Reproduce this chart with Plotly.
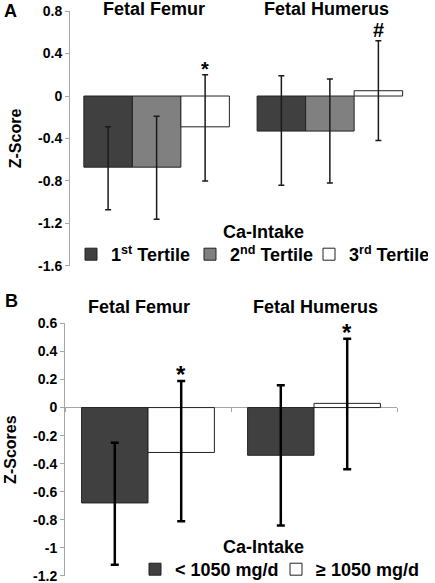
import plotly.graph_objects as go

# ---------------- data ----------------
bones = ["Fetal Femur", "Fetal Humerus"]

# Panel A: Ca-intake tertiles
tertile_names = ["1<sup>st</sup> Tertile", "2<sup>nd</sup> Tertile", "3<sup>rd</sup> Tertile"]
tertile_values = [[-0.67, -0.33], [-0.67, -0.33], [-0.29, 0.05]]
tertile_err_up = [[0.38, 0.52], [0.48, 0.49], [0.49, 0.47]]
tertile_err_down = [[0.40, 0.51], [0.49, 0.49], [0.51, 0.47]]
tertile_marks = [None, None, ["*", "#"]]

# Panel B: Ca-intake split at 1050 mg/d
split_names = ["< 1050 mg/d", "≥ 1050 mg/d"]
split_values = [[-0.68, -0.34], [-0.32, 0.03]]
split_err_up = [[0.43, 0.50], [0.51, 0.46]]
split_err_down = [[0.44, 0.50], [0.49, 0.47]]
split_marks = [None, ["*", "*"]]

ticks_a = [0.8, 0.4, 0, -0.4, -0.8, -1.2, -1.6]
ticks_b = [0.6, 0.4, 0.2, 0, -0.2, -0.4, -0.6, -0.8, -1, -1.2]

# ---------------- style ----------------
W, H = 435, 583
FONT = "Liberation Sans, Arial, sans-serif"
colors_a = ["#404040", "#808080", "#ffffff"]
colors_b = ["#404040", "#ffffff"]
legend_ids_b = ["legend2", "legend3"]
legend_x_b = [135, 276]
bw_a = 0.28
bw_b = 0.40
EPS = 0.0008


def px_x(p):
    return p / W


def px_y(p):
    return 1 - p / H


fig = go.Figure()
annotations = []

# Panel A traces
for i, name in enumerate(tertile_names):
    off = -1.5 * bw_a + i * bw_a
    fig.add_trace(go.Bar(
        x=bones, y=tertile_values[i], name=name, width=bw_a, offset=off,
        marker=dict(color=colors_a[i], line=dict(color="#222222", width=1)),
        error_y=dict(type="data", symmetric=False, array=tertile_err_up[i],
                     arrayminus=tertile_err_down[i], color="#1a1a1a",
                     thickness=1.5, width=3),
        xaxis="x", yaxis="y", legend="legend", hoverinfo="skip",
    ))
    if tertile_marks[i]:
        for j, m in enumerate(tertile_marks[i]):
            annotations.append(dict(
                x=j + off + bw_a / 2, y=tertile_values[i][j] + tertile_err_up[i][j],
                xref="x", yref="y", text=m, showarrow=False, yanchor="bottom",
                yshift=-7 if m == "*" else -2,
                font=dict(family=FONT, size=20, color="black", weight="bold")))

# Panel B traces
for i, name in enumerate(split_names):
    off = -bw_b + i * bw_b
    fig.add_trace(go.Bar(
        x=bones, y=split_values[i], name=name, width=bw_b, offset=off,
        marker=dict(color=colors_b[i], line=dict(color="#222222", width=1)),
        error_y=dict(type="data", symmetric=False, array=split_err_up[i],
                     arrayminus=split_err_down[i], color="black",
                     thickness=2.5, width=4),
        xaxis="x2", yaxis="y2", legend=legend_ids_b[i], hoverinfo="skip",
    ))
    if split_marks[i]:
        for j, m in enumerate(split_marks[i]):
            annotations.append(dict(
                x=j + off + bw_b / 2, y=split_values[i][j] + split_err_up[i][j],
                xref="x2", yref="y2", text=m, showarrow=False, yanchor="bottom",
                yshift=-9,
                font=dict(family=FONT, size=24, color="black", weight="bold")))

# Group titles
for j, b in enumerate(bones):
    annotations.append(dict(x=j, y=px_y(9), xref="x", yref="paper", text=b,
                            showarrow=False, yanchor="middle", xshift=-3,
                            font=dict(family=FONT, size=18, color="black", weight="bold")))
    annotations.append(dict(x=j, y=px_y(307), xref="x2", yref="paper", text=b,
                            showarrow=False, yanchor="middle", xshift=-9 if j == 0 else 1,
                            font=dict(family=FONT, size=18, color="black", weight="bold")))

# Panel letters and legend headings
annotations += [
    dict(x=px_x(2), y=px_y(11), xref="paper", yref="paper", text="A", showarrow=False,
         xanchor="left", yanchor="middle",
         font=dict(family=FONT, size=18, color="black", weight="bold")),
    dict(x=px_x(3), y=px_y(301), xref="paper", yref="paper", text="B", showarrow=False,
         xanchor="left", yanchor="middle",
         font=dict(family=FONT, size=18, color="black", weight="bold")),
    dict(x=px_x(263), y=px_y(232), xref="paper", yref="paper", text="Ca-Intake",
         showarrow=False, xanchor="center", yanchor="middle",
         font=dict(family=FONT, size=18, color="black", weight="bold")),
    dict(x=px_x(263), y=px_y(547), xref="paper", yref="paper", text="Ca-Intake",
         showarrow=False, xanchor="center", yanchor="middle",
         font=dict(family=FONT, size=18, color="black", weight="bold")),
]

tickfont = dict(family=FONT, size=14, color="black", weight="bold")
titlefont = dict(family=FONT, size=16, color="black", weight="bold")
legendfont = dict(family=FONT, size=18, color="black", weight="bold")
axis_gray = "#a6a6a6"

layout_legends = dict(
    legend=dict(orientation="h", x=px_x(71), y=px_y(236), xanchor="left", yanchor="top",
                font=legendfont, bgcolor="rgba(0,0,0,0)", entrywidth=74,
                traceorder="normal", itemclick=False, itemdoubleclick=False),
)
for lid, lx in zip(legend_ids_b, legend_x_b):
    layout_legends[lid] = dict(orientation="h", x=px_x(lx), y=px_y(551),
                               xanchor="left", yanchor="top", font=legendfont,
                               bgcolor="rgba(0,0,0,0)", itemclick=False,
                               itemdoubleclick=False)

fig.update_layout(
    width=W, height=H, autosize=False,
    margin=dict(l=0, r=0, t=0, b=0, autoexpand=False),
    paper_bgcolor="white", plot_bgcolor="white",
    barmode="overlay",
    font=dict(family=FONT, color="black"),
    annotations=annotations,
    hovermode=False,
    xaxis=dict(domain=[px_x(70), px_x(416.5)], range=[-0.5, 1.5], type="category",
               showticklabels=False, showline=False, ticks="", showgrid=False,
               zeroline=False, anchor="y", fixedrange=True),
    yaxis=dict(domain=[px_y(266), px_y(11)], range=[-1.6 - EPS, 0.8 + EPS], anchor="x",
               tickvals=ticks_a, ticktext=[str(t) for t in ticks_a],
               showline=True, linecolor=axis_gray, linewidth=1,
               ticks="outside", ticklen=4, tickcolor=axis_gray, ticklabeloverflow="allow",
               showgrid=False, zeroline=False, tickfont=tickfont, fixedrange=True,
               title=dict(text="Z-Score", font=titlefont, standoff=12)),
    xaxis2=dict(domain=[px_x(65), px_x(397)], range=[-0.5, 1.5], type="category",
                showticklabels=False, showgrid=False, zeroline=False,
                anchor="free", position=px_y(407.3), showline=True,
                linecolor=axis_gray, linewidth=1, fixedrange=True,
                ticks="outside", ticklen=4, tickcolor=axis_gray,
                tickmode="array", tickvals=[-0.5, 0.5, 1.5], layer="below traces"),
    yaxis2=dict(domain=[px_y(576), px_y(323.3)], range=[-1.2 - EPS, 0.6 + EPS], anchor="x2",
                tickvals=ticks_b, ticktext=[str(t) for t in ticks_b],
                showline=True, linecolor=axis_gray, linewidth=1,
                ticks="outside", ticklen=4, tickcolor=axis_gray, ticklabeloverflow="allow",
                showgrid=False, zeroline=False, tickfont=tickfont, fixedrange=True,
                title=dict(text="Z-Scores", font=titlefont, standoff=12)),
    showlegend=True,
    **layout_legends,
)

fig.write_html("out.html",
               config={"displayModeBar": False},
               post_script="document.body.style.margin='0';document.body.style.padding='0';")
